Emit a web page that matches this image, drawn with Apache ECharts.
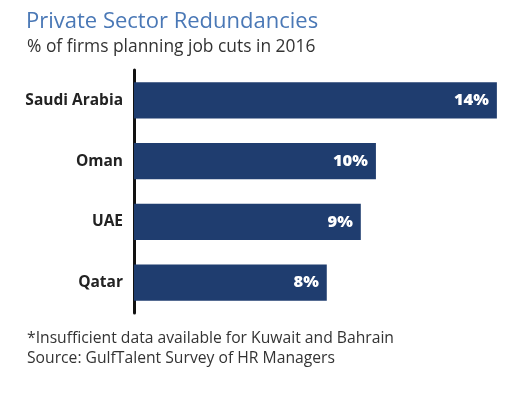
<!DOCTYPE html>
<html><head><meta charset="utf-8">
<script src="https://cdn.jsdelivr.net/npm/echarts@6/dist/echarts.min.js"></script>
<style>html,body{margin:0;padding:0;background:#fff}#c{width:512px;height:395px}</style>
</head><body><div id="c"></div>
<script>
var categories = ['Saudi Arabia', 'Oman', 'UAE', 'Qatar'];
var values = [14.4, 9.6, 9.0, 7.65];
var valueLabels = ['14%', '10%', '9%', '8%'];
var titleText = 'Private Sector Redundancies';
var subtitleText = '% of firms planning job cuts in 2016';
var noteLines = ['*Insufficient data available for Kuwait and Bahrain', 'Source: GulfTalent Survey of HR Managers'];

var chart = echarts.init(document.getElementById('c'), null, {renderer: 'canvas'});
var font = '"Open Sans", sans-serif';
chart.setOption({
  animation: false,
  backgroundColor: '#fff',
  title: [
    {text: titleText, left: 21, top: 6, textStyle: {fontFamily: font, fontWeight: 'normal', fontSize: 22, color: '#4a78b6'}},
    {text: subtitleText, left: 22, top: 34, textStyle: {fontFamily: font, fontWeight: 'normal', fontSize: 17.4, color: '#333'}},
    {text: noteLines.join('\n'), left: 22, top: 324, textStyle: {fontFamily: font, fontWeight: 'normal', fontSize: 15.7, lineHeight: 20, color: '#333'}}
  ],
  grid: {left: 134, top: 70, width: 378, height: 243, containLabel: false},
  xAxis: {type: 'value', min: 0, max: 15, show: false},
  yAxis: {
    type: 'category', data: categories, inverse: true,
    axisLine: {show: true, lineStyle: {color: '#111', width: 3}},
    axisTick: {show: false},
    axisLabel: {margin: 11, fontFamily: font, fontWeight: 'bold', fontSize: 15.5, color: '#222'}
  },
  series: [{
    type: 'bar', data: values, barCategoryGap: '40%',
    itemStyle: {color: '#1f3d6f'},
    label: {
      show: true, position: 'insideRight', distance: 8,
      formatter: function (p) { return valueLabels[p.dataIndex]; },
      fontFamily: font, fontWeight: 800, fontSize: 16.5, color: '#fff'
    }
  }]
});
</script></body></html>
